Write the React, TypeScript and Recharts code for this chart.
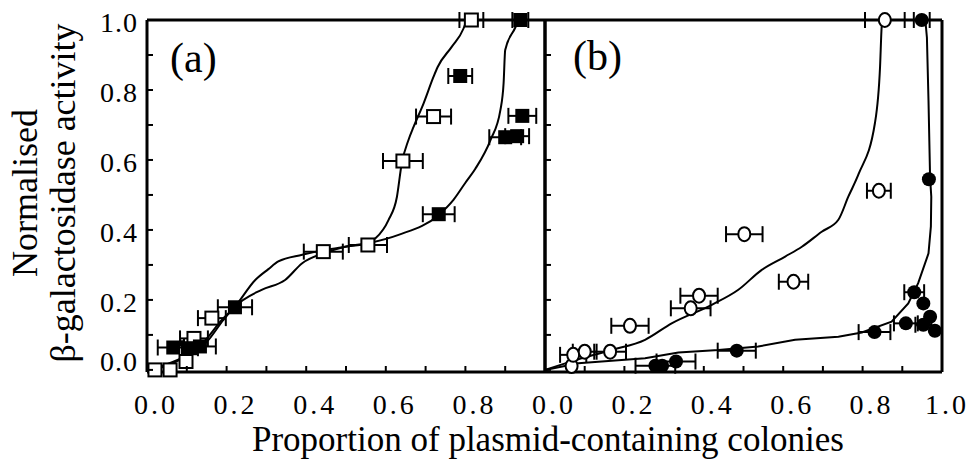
import { ComposedChart, Line, Scatter, XAxis, YAxis, ErrorBar } from 'recharts';

// axis ticks (every 0.1, labels on every second one)
const xTicks = [0, 0.1, 0.2, 0.3, 0.4, 0.5, 0.6, 0.7, 0.8, 0.9, 1.0];
const yTicks = [0, 0.1, 0.2, 0.3, 0.4, 0.5, 0.6, 0.7, 0.8, 0.9, 1.0];
const aXLabels = ['0.0', '', '0.2', '', '0.4', '', '0.6', '', '0.8', '', ''];
const bXLabels = ['0.0', '', '0.2', '', '0.4', '', '0.6', '', '0.8', '', '1.0'];
const yLabels = ['0.0', '', '0.2', '', '0.4', '', '0.6', '', '0.8', '', '1.0'];

// panel (a): open / filled squares with x error
const aOpenPoints = [
  { x: 0.02, y: 0.0, err: 0 },
  { x: 0.058, y: 0.0, err: 0 },
  { x: 0.098, y: 0.024, err: 0 },
  { x: 0.118, y: 0.09, err: 0.035 },
  { x: 0.163, y: 0.148, err: 0.035 },
  { x: 0.443, y: 0.338, err: 0.049 },
  { x: 0.555, y: 0.357, err: 0.048 },
  { x: 0.643, y: 0.597, err: 0.05 },
  { x: 0.72, y: 0.724, err: 0.044 },
  { x: 0.815, y: 1.0, err: 0.03 },
];
const aFilledPoints = [
  { x: 0.066, y: 0.064, err: 0.039 },
  { x: 0.108, y: 0.062, err: 0.02 },
  { x: 0.133, y: 0.067, err: 0.04 },
  { x: 0.221, y: 0.179, err: 0.043 },
  { x: 0.733, y: 0.445, err: 0.04 },
  { x: 0.787, y: 0.84, err: 0.03 },
  { x: 0.9, y: 0.665, err: 0.04 },
  { x: 0.93, y: 0.668, err: 0.03 },
  { x: 0.943, y: 0.726, err: 0.035 },
  { x: 0.938, y: 1.0, err: 0.02 },
];
const aOpenCurve = [
  { x: 0, y: 0 }, { x: 0.045, y: 0.014 }, { x: 0.1, y: 0.042 }, { x: 0.14, y: 0.077 },
  { x: 0.188, y: 0.143 }, { x: 0.221, y: 0.181 }, { x: 0.272, y: 0.257 }, { x: 0.305, y: 0.288 },
  { x: 0.33, y: 0.31 }, { x: 0.39, y: 0.329 }, { x: 0.448, y: 0.343 }, { x: 0.498, y: 0.352 },
  { x: 0.555, y: 0.362 }, { x: 0.574, y: 0.376 }, { x: 0.607, y: 0.429 }, { x: 0.628, y: 0.495 },
  { x: 0.64, y: 0.59 }, { x: 0.657, y: 0.657 }, { x: 0.67, y: 0.695 }, { x: 0.695, y: 0.762 },
  { x: 0.72, y: 0.838 }, { x: 0.73, y: 0.865 }, { x: 0.766, y: 0.924 }, { x: 0.795, y: 0.975 },
  { x: 0.803, y: 1.0 },
];
const aFilledCurve = [
  { x: 0, y: 0 }, { x: 0.05, y: 0.012 }, { x: 0.11, y: 0.048 }, { x: 0.15, y: 0.08 },
  { x: 0.192, y: 0.143 }, { x: 0.221, y: 0.181 }, { x: 0.288, y: 0.229 }, { x: 0.347, y: 0.257 },
  { x: 0.39, y: 0.305 }, { x: 0.448, y: 0.335 }, { x: 0.498, y: 0.352 }, { x: 0.555, y: 0.362 },
  { x: 0.632, y: 0.386 }, { x: 0.733, y: 0.443 }, { x: 0.77, y: 0.486 }, { x: 0.8, y: 0.535 },
  { x: 0.825, y: 0.575 }, { x: 0.863, y: 0.657 }, { x: 0.888, y: 0.743 }, { x: 0.896, y: 0.82 },
  { x: 0.9, y: 0.914 }, { x: 0.926, y: 0.98 }, { x: 0.933, y: 1.0 },
];

// panel (b): open / filled circles with x error
const bOpenPoints = [
  { x: 0.067, y: 0.011, err: 0 },
  { x: 0.071, y: 0.043, err: 0.033 },
  { x: 0.1, y: 0.052, err: 0.03 },
  { x: 0.164, y: 0.052, err: 0.04 },
  { x: 0.214, y: 0.126, err: 0.047 },
  { x: 0.367, y: 0.176, err: 0.05 },
  { x: 0.388, y: 0.212, err: 0.047 },
  { x: 0.502, y: 0.388, err: 0.046 },
  { x: 0.626, y: 0.252, err: 0.037 },
  { x: 0.841, y: 0.512, err: 0.03 },
  { x: 0.856, y: 1.0, err: 0.05 },
];
const bFilledPoints = [
  { x: 0.278, y: 0.012, err: 0.05 },
  { x: 0.295, y: 0.012, err: 0 },
  { x: 0.33, y: 0.024, err: 0.049 },
  { x: 0.483, y: 0.055, err: 0.048 },
  { x: 0.83, y: 0.108, err: 0.04 },
  { x: 0.909, y: 0.133, err: 0.03 },
  { x: 0.93, y: 0.222, err: 0.025 },
  { x: 0.953, y: 0.19, err: 0 },
  { x: 0.953, y: 0.129, err: 0.02 },
  { x: 0.97, y: 0.152, err: 0 },
  { x: 0.982, y: 0.112, err: 0 },
  { x: 0.967, y: 0.545, err: 0 },
  { x: 0.949, y: 1.0, err: 0.02 },
];
const bOpenCurve = [
  { x: 0, y: 0 }, { x: 0.092, y: 0.033 }, { x: 0.168, y: 0.057 }, { x: 0.252, y: 0.086 },
  { x: 0.319, y: 0.133 }, { x: 0.42, y: 0.186 }, { x: 0.487, y: 0.229 }, { x: 0.546, y: 0.286 },
  { x: 0.605, y: 0.324 }, { x: 0.647, y: 0.352 }, { x: 0.697, y: 0.395 }, { x: 0.739, y: 0.429 },
  { x: 0.764, y: 0.495 }, { x: 0.79, y: 0.56 }, { x: 0.831, y: 0.705 }, { x: 0.844, y: 0.867 },
  { x: 0.848, y: 0.98 }, { x: 0.85, y: 1.0 },
];
const bFilledCurve = [
  { x: 0, y: 0 }, { x: 0.084, y: 0.019 }, { x: 0.252, y: 0.033 }, { x: 0.336, y: 0.05 },
  { x: 0.437, y: 0.057 }, { x: 0.537, y: 0.067 }, { x: 0.63, y: 0.086 }, { x: 0.739, y: 0.095 },
  { x: 0.798, y: 0.107 }, { x: 0.873, y: 0.138 }, { x: 0.915, y: 0.19 }, { x: 0.94, y: 0.248 },
  { x: 0.966, y: 0.333 }, { x: 0.972, y: 0.41 }, { x: 0.973, y: 0.495 }, { x: 0.97, y: 0.55 },
  { x: 0.966, y: 0.77 }, { x: 0.962, y: 0.95 }, { x: 0.958, y: 1.0 },
];

const FONT = '"Liberation Serif", "Times New Roman", serif';
const TICK = 6;
const AXIS = { stroke: '#000', strokeWidth: 3 };

const idx = (p: any) => (p.index !== undefined ? p.index : p.payload?.index ?? 0);

const bottomTick = (labels: string[]) => (p: any) => (
  <g>
    <line x1={p.x} y1={p.y} x2={p.x} y2={p.y - TICK} stroke="#000" strokeWidth={2} />
    {labels[idx(p)] ? (
      <text x={p.x + (idx(p) === 10 ? 5 : 9)} y={p.y + 42} textAnchor="middle" fontFamily={FONT} fontSize={28} letterSpacing={3} fill="#000">
        {labels[idx(p)]}
      </text>
    ) : null}
  </g>
);
const topTick = (p: any) => (
  <line x1={p.x} y1={p.y} x2={p.x} y2={p.y + TICK} stroke="#000" strokeWidth={2} />
);
const leftTick = (labels: string[]) => (p: any) => (
  <g>
    <line x1={p.x} y1={p.y} x2={p.x + TICK} y2={p.y} stroke="#000" strokeWidth={2} />
    {labels[idx(p)] ? (
      <text x={p.x - 9} y={p.y + (idx(p) === 0 ? 1 : 12)} textAnchor="end" fontFamily={FONT} fontSize={28} letterSpacing={1} fill="#000">
        {labels[idx(p)]}
      </text>
    ) : null}
  </g>
);
const rightTick = (p: any) => (
  <line x1={p.x} y1={p.y} x2={p.x - TICK} y2={p.y} stroke="#000" strokeWidth={2} />
);

const OpenSquare = (p: any) => (
  <rect x={p.cx - 6.5} y={p.cy - 6.5} width={13} height={13} fill="#fff" stroke="#000" strokeWidth={2} />
);
const FilledSquare = (p: any) => <rect x={p.cx - 7} y={p.cy - 7} width={14} height={14} fill="#000" />;
const OpenCircle = (p: any) => (
  <ellipse cx={p.cx} cy={p.cy} rx={6} ry={7} fill="#fff" stroke="#000" strokeWidth={2} />
);
const FilledCircle = (p: any) => <circle cx={p.cx} cy={p.cy} r={7} fill="#000" />;

function Panel(props: {
  width: number;
  margin: any;
  leftWidth: number;
  xLabels: string[];
  leftLabels: string[];
  openCurve: any[];
  filledCurve: any[];
  openPoints: any[];
  filledPoints: any[];
  openShape: any;
  filledShape: any;
  filledCurveType: any;
}) {
  const err = <ErrorBar dataKey="err" direction="x" width={8} stroke="#000" strokeWidth={2} />;
  return (
    <ComposedChart width={props.width} height={460} margin={props.margin}>
      <XAxis
        xAxisId="b" type="number" dataKey="x" domain={[0, 1]} ticks={xTicks} interval={0}
        height={50} tickSize={0} tickMargin={0} tickLine={false} axisLine={AXIS}
        tick={bottomTick(props.xLabels)}
      />
      <XAxis
        xAxisId="t" orientation="top" type="number" dataKey="x" domain={[0, 1]} ticks={xTicks} interval={0}
        height={10} tickSize={0} tickMargin={0} tickLine={false} axisLine={AXIS} tick={topTick}
      />
      <YAxis
        yAxisId="l" type="number" dataKey="y" domain={[-0.006, 1]} ticks={yTicks} interval={0}
        width={props.leftWidth} tickSize={0} tickMargin={0} tickLine={false} axisLine={AXIS}
        tick={leftTick(props.leftLabels)}
      />
      <YAxis
        yAxisId="r" orientation="right" type="number" dataKey="y" domain={[-0.006, 1]} ticks={yTicks} interval={0}
        width={10} tickSize={0} tickMargin={0} tickLine={false} axisLine={AXIS} tick={rightTick}
      />
      <Line xAxisId="b" yAxisId="l" data={props.openCurve} dataKey="y" type="monotone" stroke="#000" strokeWidth={2} dot={false} isAnimationActive={false} />
      <Line xAxisId="b" yAxisId="l" data={props.filledCurve} dataKey="y" type={props.filledCurveType} stroke="#000" strokeWidth={2} dot={false} isAnimationActive={false} />
      <Scatter xAxisId="b" yAxisId="l" data={props.openPoints} dataKey="y" shape={props.openShape} isAnimationActive={false}>
        {err}
      </Scatter>
      <Scatter xAxisId="b" yAxisId="l" data={props.filledPoints} dataKey="y" shape={props.filledShape} isAnimationActive={false}>
        {err}
      </Scatter>
    </ComposedChart>
  );
}

export default function App() {
  const emptyLabels = xTicks.map(() => '');
  return (
    <div style={{ position: 'absolute', left: 0, top: 0, width: 972, height: 460, background: '#fff' }}>
      <div style={{ position: 'absolute', left: 0, top: 0 }}>
        <Panel
          width={560}
          margin={{ top: 10, right: 5, bottom: 38, left: 87 }}
          leftWidth={60}
          xLabels={aXLabels}
          leftLabels={yLabels}
          openCurve={aOpenCurve}
          filledCurve={aFilledCurve}
          openPoints={aOpenPoints}
          filledPoints={aFilledPoints}
          openShape={OpenSquare}
          filledShape={FilledSquare}
          filledCurveType="monotone"
        />
      </div>
      <div style={{ position: 'absolute', left: 480, top: 0 }}>
        <Panel
          width={492}
          margin={{ top: 10, right: 20, bottom: 38, left: 55 }}
          leftWidth={10}
          xLabels={bXLabels}
          leftLabels={emptyLabels}
          openCurve={bOpenCurve}
          filledCurve={bFilledCurve}
          openPoints={bOpenPoints}
          filledPoints={bFilledPoints}
          openShape={OpenCircle}
          filledShape={FilledCircle}
          filledCurveType="linear"
        />
      </div>
      <svg width={972} height={460} style={{ position: 'absolute', left: 0, top: 0, pointerEvents: 'none' }}>
        <g fontFamily={FONT} fill="#000">
          <text x={170} y={72} fontSize={42}>(a)</text>
          <text x={573} y={70} fontSize={42}>(b)</text>
          <text x={548} y={451} fontSize={35} textAnchor="middle">Proportion of plasmid-containing colonies</text>
          <text x={37} y={193} fontSize={36} textAnchor="middle" transform="rotate(-90, 37, 193)">Normalised</text>
          <text x={75} y={193} fontSize={36} textAnchor="middle" transform="rotate(-90, 75, 193)">β-galactosidase activity</text>
        </g>
      </svg>
    </div>
  );
}
